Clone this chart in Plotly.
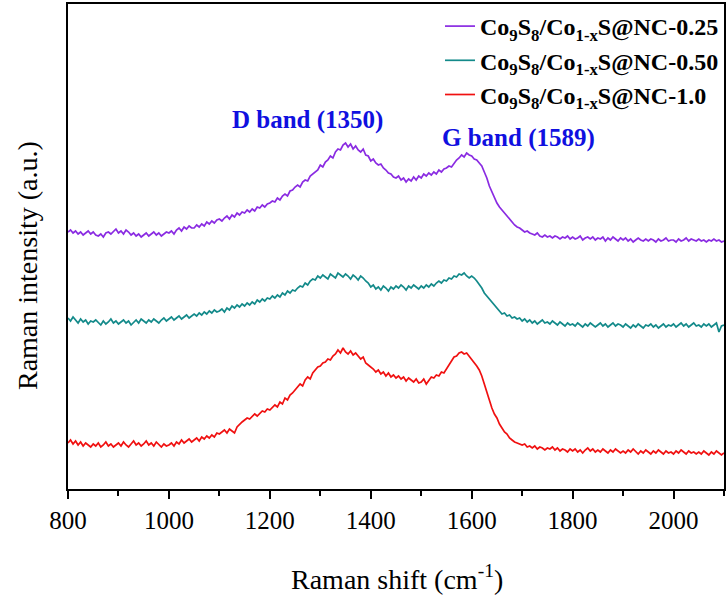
import numpy as np
import plotly.graph_objects as go

# Raman shift grid (cm^-1), 5 cm^-1 steps
shift = np.arange(800, 2101, 5)

# Offset Raman spectra (arbitrary units), one value per grid point
nc_025 = [
    258,260,257,259,256,258,255,257,259,256,
    258,255,254,256,253,257,258,256,259,261,
    257,259,256,260,258,255,257,254,256,253,
    255,257,254,256,258,255,257,254,256,258,
    257,259,256,260,262,259,263,261,264,262,
    262,265,263,266,264,268,266,269,267,270,
    271,269,272,274,271,275,273,277,275,278,
    277,280,278,281,279,283,282,285,283,286,
    287,289,288,292,290,294,296,294,299,300,
    303,305,303,308,310,309,314,316,318,320,
    325,323,328,330,334,332,338,341,340,345,
    347,343,346,341,344,340,338,341,335,334,
    329,331,327,325,326,322,320,317,316,313,
    312,314,310,312,308,311,309,313,310,314,
    312,316,314,317,315,318,316,320,318,321,
    322,324,323,327,330,332,335,333,337,335,
    334,331,330,327,324,318,312,304,298,292,
    287,283,280,276,274,270,268,265,263,262,
    260,258,259,257,256,255,257,254,253,255,
    253,254,252,254,253,251,253,252,254,251,
    253,251,252,254,250,252,253,251,253,250,
    252,251,253,249,252,250,253,251,249,252,
    250,252,249,251,248,250,252,250,249,251,
    249,251,250,248,251,249,250,252,249,250,
    250,248,251,249,250,252,249,251,250,249,
    251,249,250,248,250,249,251,249,250,248,
    249,
]

nc_050 = [
    172,169,173,170,167,171,168,170,166,169,
    168,170,167,165,169,166,168,171,167,169,
    166,168,170,167,169,165,168,170,167,171,
    169,167,170,168,171,169,167,170,172,169,
    171,173,170,172,174,171,173,175,172,174,
    176,174,177,175,178,176,179,177,180,178,
    179,181,178,182,180,184,182,185,183,186,
    184,187,185,188,186,190,188,191,189,192,
    191,194,192,195,193,197,195,199,197,200,
    199,202,204,203,207,205,209,211,210,214,
    212,215,213,211,216,214,212,217,215,213,
    216,214,211,215,213,210,214,212,209,207,
    203,205,201,203,200,204,202,199,203,201,
    204,202,205,203,200,204,202,205,203,201,
    204,202,205,203,206,204,207,209,207,210,
    209,212,211,214,213,216,215,217,214,212,
    214,212,209,206,202,197,194,190,187,184,
    181,178,176,177,174,175,172,173,171,172,
    169,171,168,170,167,169,166,168,170,167,
    168,166,169,167,165,168,166,164,167,165,
    166,164,167,165,163,166,164,167,165,163,
    165,167,164,166,163,165,167,164,166,165,
    163,166,164,162,165,163,166,164,162,165,
    164,166,163,165,162,164,166,163,165,164,
    166,163,165,167,164,166,163,165,167,164,
    165,163,166,164,166,163,165,167,158,164,
    165,
]

nc_100 = [
    47,50,46,49,45,48,44,47,45,43,
    46,44,47,43,45,48,44,46,43,45,
    47,44,48,45,43,46,49,45,47,44,
    46,49,45,47,44,48,45,43,46,44,
    45,47,44,48,46,50,47,49,51,48,
    50,52,49,53,51,54,52,55,53,57,
    56,58,60,57,61,59,57,63,66,68,
    70,72,71,74,76,74,77,79,78,81,
    80,83,85,83,88,86,92,90,95,97,
    100,103,106,104,110,113,111,117,120,123,
    124,127,128,131,130,134,136,140,137,142,
    138,136,139,135,137,134,131,133,127,125,
    123,121,118,120,116,118,114,117,113,115,
    112,114,111,113,109,112,110,108,111,107,
    108,111,106,110,113,112,115,114,118,117,
    121,125,129,133,134,137,138,136,137,134,
    130,127,124,120,114,106,99,90,82,76,
    72,66,62,58,56,52,50,48,47,46,
    45,46,43,44,42,44,41,43,42,40,
    42,41,43,40,42,39,41,40,38,41,
    39,41,38,40,37,40,42,39,41,38,
    40,38,41,39,37,40,38,41,39,37,
    39,37,40,38,41,38,36,39,37,40,
    38,36,39,37,40,38,36,39,37,38,
    36,39,37,40,38,36,39,37,38,36,
    38,36,39,37,35,38,36,39,37,35,
    37,
]

series_names = [
    "<b>Co<sub>9</sub>S<sub>8</sub>/Co<sub>1-x</sub>S@NC-0.25</b>",
    "<b>Co<sub>9</sub>S<sub>8</sub>/Co<sub>1-x</sub>S@NC-0.50</b>",
    "<b>Co<sub>9</sub>S<sub>8</sub>/Co<sub>1-x</sub>S@NC-1.0</b>",
]
series_colors = ["#8a2be2", "#138a8a", "#f01010"]
x_ticks = [800, 1000, 1200, 1400, 1600, 1800, 2000]

SERIF = "Liberation Serif"

fig = go.Figure()
for name, vals, col in zip(series_names, [nc_025, nc_050, nc_100], series_colors):
    fig.add_trace(go.Scatter(
        x=shift, y=vals, mode="lines", name=name,
        line=dict(color=col, width=1.7),
    ))

fig.update_layout(
    width=728, height=595,
    margin=dict(l=68, r=2, t=4, b=106),
    plot_bgcolor="white", paper_bgcolor="white",
    font=dict(family=SERIF, color="black"),
    showlegend=True,
    legend=dict(
        x=1, y=1, xanchor="right", yanchor="top",
        bgcolor="rgba(0,0,0,0)", borderwidth=0,
        font=dict(family=SERIF, size=24, color="black"),
        tracegroupgap=0,
    ),
    xaxis=dict(
        range=[800, 2100], tickvals=x_ticks,
        ticks="outside", ticklen=8, tickwidth=2, tickcolor="black",
        minor=dict(dtick=100, tick0=800, ticks="outside", ticklen=5,
                   tickwidth=2, tickcolor="black"),
        showline=True, linecolor="black", linewidth=2, mirror=True,
        showgrid=False, zeroline=False,
        tickfont=dict(family=SERIF, size=25, color="black"),
    ),
    yaxis=dict(
        range=[1, 486], showticklabels=False, ticks="",
        showline=True, linecolor="black", linewidth=2, mirror=True,
        showgrid=False, zeroline=False,
    ),
)

# Axis titles
fig.add_annotation(
    text="Raman shift (cm<sup>-1</sup>)", xref="paper", yref="paper",
    x=0.5015, y=-0.1835, xanchor="center", yanchor="middle", showarrow=False,
    font=dict(family=SERIF, size=28, color="black"),
)
fig.add_annotation(
    text="Raman intensity (a.u.)", xref="paper", yref="paper",
    x=-0.0608, y=0.46, xanchor="center", yanchor="middle", showarrow=False,
    textangle=-90, font=dict(family=SERIF, size=28, color="black"),
)

# Band labels
band_labels = [("<b>D band (1350)</b>", 1274, 370), ("<b>G band (1589)</b>", 1693, 352)]
for txt, bx, by in band_labels:
    fig.add_annotation(
        text=txt, x=bx, y=by, xanchor="center", yanchor="middle",
        showarrow=False, font=dict(family=SERIF, size=25, color="#1010e0"),
    )

fig.write_html("out.html")
